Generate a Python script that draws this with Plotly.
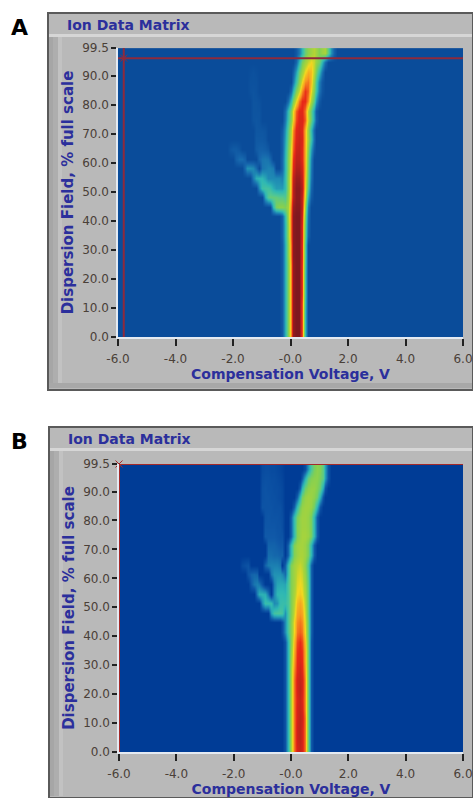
import plotly.graph_objects as go

W, H = 473, 798
TEXT_BLUE = "#2B2F9C"
TICK_TEXT = "#4A4038"

x_tick_values = [-6, -4, -2, 0, 2, 4, 6]
x_tick_labels = ["-6.0", "-4.0", "-2.0", "-0.0", "2.0", "4.0", "6.0"]
y_tick_values = [0, 10, 20, 30, 40, 50, 60, 70, 80, 90, 99.5]
y_tick_labels = ["0.0", "10.0", "20.0", "30.0", "40.0", "50.0", "60.0", "70.0", "80.0", "90.0", "99.5"]

# Compensation-voltage columns (V), every 0.1 V
cv_columns = [round(-6.0 + 0.1 * k, 1) for k in range(121)]
# Dispersion-field rows (% full scale), bottom to top
field_rows = [1.66, 4.98, 8.29, 11.6, 14.9, 18.2, 21.6, 24.9, 28.2, 31.5,
              34.8, 38.1, 41.5, 44.8, 48.1, 51.4, 54.7, 58.0, 61.4, 64.7,
              68.0, 71.3, 74.6, 77.9, 81.2, 84.6, 87.9, 91.2, 94.5, 97.8]

# Panel A main ridge: first CV of each row, then the intensity values
a_ridge_start = [-0.3] * 20 + [-0.3, -0.3, -0.2, -0.2, -0.1, 0.0, 0.1, 0.1, 0.2, 0.2]
a_ridge_values = [
    [6, 28, 50, 76, 97, 100, 100, 82, 32],
    [6, 28, 50, 76, 97, 100, 100, 82, 32],
    [6, 28, 50, 76, 97, 100, 100, 82, 32],
    [6, 28, 50, 76, 97, 100, 100, 82, 34],
    [6, 28, 50, 76, 97, 100, 100, 84, 36],
    [6, 28, 50, 76, 97, 100, 100, 84, 36],
    [6, 28, 50, 76, 97, 100, 100, 84, 36],
    [6, 28, 50, 76, 97, 100, 100, 84, 38],
    [6, 28, 52, 78, 98, 100, 100, 85, 40],
    [6, 28, 52, 78, 98, 100, 100, 85, 40],
    [8, 30, 54, 80, 98, 100, 100, 86, 44, 8],
    [8, 30, 54, 80, 98, 100, 100, 86, 46, 10],
    [8, 32, 56, 80, 98, 100, 100, 88, 50, 12],
    [8, 32, 56, 78, 96, 99, 99, 90, 56, 16],
    [10, 32, 54, 74, 92, 98, 98, 90, 64, 28, 6],
    [10, 32, 52, 72, 92, 98, 98, 92, 68, 38, 10],
    [10, 32, 52, 72, 90, 96, 96, 90, 70, 42, 14],
    [10, 30, 50, 70, 86, 93, 93, 88, 72, 44, 16],
    [10, 30, 50, 68, 84, 91, 91, 86, 72, 46, 18],
    [8, 28, 48, 66, 80, 89, 90, 86, 72, 50, 25, 6],
    [8, 25, 45, 62, 78, 87, 89, 87, 72, 55, 35, 12],
    [6, 22, 42, 60, 76, 86, 88, 86, 72, 54, 32, 10],
    [15, 35, 52, 68, 82, 87, 87, 80, 62, 45, 25, 8],
    [12, 32, 50, 66, 80, 86, 86, 78, 60, 44, 24, 6],
    [12, 32, 50, 65, 78, 85, 85, 76, 58, 42, 22, 6],
    [12, 30, 50, 62, 76, 84, 80, 66, 50, 35, 15, 4],
    [15, 35, 52, 66, 76, 78, 70, 54, 38, 18, 5],
    [8, 25, 45, 56, 66, 72, 70, 60, 48, 32, 14],
    [10, 30, 48, 56, 62, 66, 62, 54, 48, 30, 12],
    [5, 15, 30, 45, 52, 56, 60, 56, 50, 55, 58, 42, 22, 8],
]

# Panel A side lobes: row index, first CV, intensity values
a_lobe_rows = [13, 14, 15, 15, 16, 16, 17, 17, 18, 18, 19, 19, 20, 21, 22, 23, 24, 25, 26, 27]
a_lobe_start = [-0.6, -0.9, -1.1, -0.6, -1.3, -0.8, -1.6, -1.0, -1.9, -1.1, -2.1, -1.2,
                -1.2, -1.2, -1.3, -1.3, -1.3, -1.4, -1.4, -1.4]
a_lobe_values = [
    [30, 48, 52, 52, 50, 44], [26, 40, 44, 44, 44, 42, 42, 40], [20, 34, 36, 36, 34, 28], [24, 24, 24, 24, 20],
    [16, 28, 30, 30, 26, 16], [20, 20, 20, 20, 20, 18], [12, 22, 22, 20, 12], [14, 16, 18, 18, 16],
    [8, 12, 12, 8], [10, 14, 15, 14, 10], [4, 6, 6, 4], [6, 8, 8, 7, 5],
    [5, 5, 5, 4], [4, 4, 4, 3], [3, 4, 3], [3, 3, 3], [3, 3, 2], [2, 3, 2], [2, 2, 2], [1, 2, 1],
]

# Panel B main ridge
b_ridge_start = [-0.2] * 12 + [-0.3] * 6 + [-0.2, -0.2, -0.1, -0.1, 0.0, 0.0, 0.0, 0.1, 0.2, 0.3, 0.4, 0.5]
b_ridge_values = [
    [8, 30, 58, 78, 88, 90, 88, 78, 45, 10],
    [8, 30, 58, 78, 89, 91, 88, 78, 45, 10],
    [8, 30, 58, 78, 89, 91, 88, 78, 45, 10],
    [8, 30, 58, 78, 88, 91, 89, 78, 45, 10],
    [8, 30, 58, 78, 88, 90, 88, 76, 45, 10],
    [8, 30, 58, 78, 87, 90, 87, 76, 45, 10],
    [8, 30, 58, 78, 88, 91, 88, 76, 45, 10],
    [8, 30, 58, 78, 88, 90, 88, 76, 45, 10],
    [8, 30, 58, 76, 86, 89, 86, 74, 45, 10],
    [8, 30, 56, 74, 85, 87, 85, 72, 45, 10],
    [8, 30, 54, 72, 84, 86, 84, 72, 45, 10],
    [8, 30, 52, 70, 82, 85, 82, 70, 45, 10],
    [6, 20, 38, 52, 66, 78, 80, 78, 66, 44, 12],
    [6, 20, 38, 52, 66, 76, 78, 76, 64, 44, 12],
    [8, 22, 38, 50, 62, 73, 75, 73, 62, 42, 12],
    [8, 22, 38, 50, 60, 70, 73, 70, 60, 42, 12],
    [8, 22, 38, 50, 58, 66, 68, 66, 58, 42, 12],
    [8, 22, 38, 50, 56, 64, 66, 64, 56, 42, 12],
    [14, 34, 50, 56, 62, 64, 62, 54, 40, 12],
    [12, 32, 50, 56, 60, 62, 60, 52, 38, 12],
    [12, 32, 50, 55, 58, 58, 55, 48, 30, 10],
    [12, 32, 50, 55, 57, 57, 55, 48, 30, 10],
    [12, 32, 50, 55, 57, 57, 55, 48, 30, 10],
    [12, 32, 50, 54, 56, 56, 54, 48, 30, 10],
    [12, 32, 48, 54, 56, 56, 54, 48, 30, 10],
    [12, 32, 48, 54, 56, 56, 54, 46, 28, 8],
    [12, 32, 48, 54, 56, 55, 52, 46, 28, 8],
    [12, 30, 46, 52, 54, 54, 50, 44, 26, 8],
    [10, 28, 44, 50, 52, 52, 48, 42, 24, 8],
    [6, 22, 38, 48, 52, 50, 42, 25, 8],
]

# Panel B side lobes
b_lobe_rows = [14, 15, 15, 16, 16, 17, 17, 18, 18, 19, 19, 20, 21, 22, 23, 24, 25, 26, 27, 28, 29]
b_lobe_start = [-0.7, -1.0, -0.5, -1.2, -0.6, -1.4, -0.6, -1.5, -0.7, -1.7, -0.9, -0.8,
                -0.8, -0.9, -0.9, -0.9, -1.0, -1.0, -1.0, -1.0, -1.0]
b_lobe_values = [
    [24, 36, 38, 38, 36], [20, 33, 33, 32, 20], [22, 32, 33, 33], [18, 28, 29, 28, 16], [20, 30, 31, 31, 30],
    [10, 16, 18, 16, 8], [18, 26, 27, 27, 26], [8, 12, 13, 12], [16, 22, 22, 22, 20], [5, 7, 8], [12, 17, 18, 18, 18, 16],
    [14, 14, 13, 13, 12, 12], [12, 12, 12, 11, 10, 10], [10, 10, 10, 10, 9, 8, 8],
    [9, 9, 9, 9, 8, 8, 6], [8, 9, 8, 8, 8, 7, 6], [8, 8, 8, 8, 7, 7, 7, 5],
    [7, 8, 8, 7, 7, 6, 5, 4], [7, 8, 7, 7, 6, 6, 5, 4], [6, 7, 7, 6, 6, 5, 4, 3], [5, 6, 6, 5, 5, 4, 3, 2],
]

# Cursors (CV, field)
a_cursor_cv, a_cursor_field = -5.8, 96.0
b_cursor_cv, b_cursor_field = -6.0, 99.5


def build_matrix(r_start, r_vals, l_rows, l_start, l_vals):
    z = [[0.0] * len(cv_columns) for _ in field_rows]
    def put(row, start, vals):
        k0 = round((start - cv_columns[0]) * 10)
        for j, v in enumerate(vals):
            z[row][k0 + j] = max(z[row][k0 + j], v)
    for i, (s, v) in enumerate(zip(r_start, r_vals)):
        put(i, s, v)
    for i, s, v in zip(l_rows, l_start, l_vals):
        put(i, s, v)
    return z


def scale(bg, low):
    return [[0, bg], [0.1, low], [0.2, "#1F8AB4"], [0.3, "#2FB8B4"], [0.4, "#52C894"],
            [0.5, "#82D054"], [0.6, "#B4D434"], [0.66, "#F2D820"], [0.75, "#F89820"],
            [0.85, "#E82818"], [1, "#7E1820"]]


BG_A, BG_B = "#0A4C9A", "#003C96"
fig = go.Figure()
fig.add_trace(go.Heatmap(x=cv_columns, y=field_rows,
                         z=build_matrix(a_ridge_start, a_ridge_values, a_lobe_rows, a_lobe_start, a_lobe_values),
                         zmin=0, zmax=100, colorscale=scale(BG_A, "#1665AC"), showscale=False, zsmooth="best",
                         xaxis="x", yaxis="y"))
fig.add_trace(go.Heatmap(x=cv_columns, y=field_rows,
                         z=build_matrix(b_ridge_start, b_ridge_values, b_lobe_rows, b_lobe_start, b_lobe_values),
                         zmin=0, zmax=100, colorscale=scale(BG_B, "#1059A8"), showscale=False, zsmooth="best",
                         xaxis="x2", yaxis="y2"))

RED = "#8E2A3C"
for cvx, fy, xa, ya, color in [(a_cursor_cv, a_cursor_field, "x", "y", RED),
                               (b_cursor_cv, b_cursor_field, "x2", "y2", "#A52A2A")]:
    fig.add_trace(go.Scatter(x=[-6, 6], y=[fy, fy], mode="lines", line=dict(color=color, width=2),
                             xaxis=xa, yaxis=ya, showlegend=False, cliponaxis=False))
    fig.add_trace(go.Scatter(x=[cvx, cvx], y=[0, 99.5], mode="lines", line=dict(color=color, width=2),
                             xaxis=xa, yaxis=ya, showlegend=False, cliponaxis=False))
    fig.add_trace(go.Scatter(x=[cvx], y=[fy], mode="markers",
                             marker=dict(symbol="x-thin-open", size=7, color=color, line=dict(width=1, color=color)),
                             xaxis=xa, yaxis=ya, showlegend=False, cliponaxis=False))

def px_x(v): return v / W
def px_y(v): return 1 - v / H

shapes = []
def rect(x0, y0, x1, y1, fill, line=None, lw=0):
    shapes.append(dict(type="rect", xref="paper", yref="paper", x0=px_x(x0), x1=px_x(x1),
                       y0=px_y(y1), y1=px_y(y0), fillcolor=fill,
                       line=dict(color=line or fill, width=lw), layer="below"))

for top, bottom, left in [(13, 390, 48), (427, 798, 49)]:
    rect(left, top, 473, bottom, "#B9B9B9", "#5A5A5A", 2)
    rect(left + 1, top + 21, 472, top + 24, "#D6D6D6")
    rect(left + 1, top + 24, left + 5, bottom - 2, "#A6A6A6")
    rect(left + 5, top + 24, left + 10, bottom - 2, "#AEAEAE")
    rect(left + 10, top + 24, left + 14, bottom - 2, "#C2C2C2")
    if bottom < 798:
        rect(left + 1, bottom - 7, 472, bottom - 2, "#A8A8A8")

def axis(domain, anchor, ticklen, standoff, **kw):
    return dict(domain=domain, anchor=anchor, automargin=False, showgrid=False, zeroline=False, showline=True,
                linecolor="#E4EAF2", linewidth=1.5, mirror=False, ticks="outside", ticklen=ticklen,
                ticklabelstandoff=standoff, tickwidth=1.5, tickcolor="#222222",
                tickfont=dict(family="DejaVu Sans", size=12, color=TICK_TEXT), **kw)

X_DOMAIN = [px_x(118), px_x(463)]
X_DOMAIN_B = [px_x(119), px_x(463)]
xt = dict(tickmode="array", tickvals=x_tick_values, ticktext=x_tick_labels, range=[-6, 6], tickangle=0)
yt = dict(tickmode="array", tickvals=y_tick_values, ticktext=y_tick_labels, range=[0, 99.5])
xtitle = dict(text="Compensation Voltage, V", font=dict(family="DejaVu Sans", size=14, color=TEXT_BLUE, weight="bold"), standoff=3)
ytitle = dict(text="Dispersion Field, % full scale", font=dict(family="DejaVu Sans", size=15, color=TEXT_BLUE, weight="bold"), standoff=5)

annotations = []
for text, x, y in [("Ion Data Matrix", 65, 25), ("Ion Data Matrix", 66, 439)]:
    annotations.append(dict(text=text, x=px_x(x), y=px_y(y), xref="paper", yref="paper", showarrow=False,
                            xanchor="left", yanchor="middle",
                            font=dict(family="DejaVu Sans", size=14, color=TEXT_BLUE, weight="bold")))
for text, x, y in [("A", 19, 27), ("B", 19, 441)]:
    annotations.append(dict(text=text, x=px_x(x), y=px_y(y), xref="paper", yref="paper", showarrow=False,
                            xanchor="center", yanchor="middle",
                            font=dict(family="DejaVu Sans", size=22, color="#000000", weight="bold")))

fig.update_layout(
    width=W, height=H, margin=dict(l=0, r=0, t=0, b=0, pad=0), paper_bgcolor="#FFFFFF",
    plot_bgcolor=BG_A, showlegend=False, shapes=shapes, annotations=annotations,
    xaxis=axis(X_DOMAIN, "y", 7, 3, title=xtitle, **xt),
    yaxis=axis([px_y(337), px_y(48)], "x", 5, 0, title=ytitle, **yt),
    xaxis2=axis(X_DOMAIN_B, "y2", 7, 3, title=xtitle, **xt),
    yaxis2=axis([px_y(752), px_y(464)], "x2", 5, 0, title=ytitle, **yt),
)
fig.write_html("out.html", config=dict(displayModeBar=False),
               post_script="document.body.style.margin='0';document.documentElement.style.overflow='hidden';")
